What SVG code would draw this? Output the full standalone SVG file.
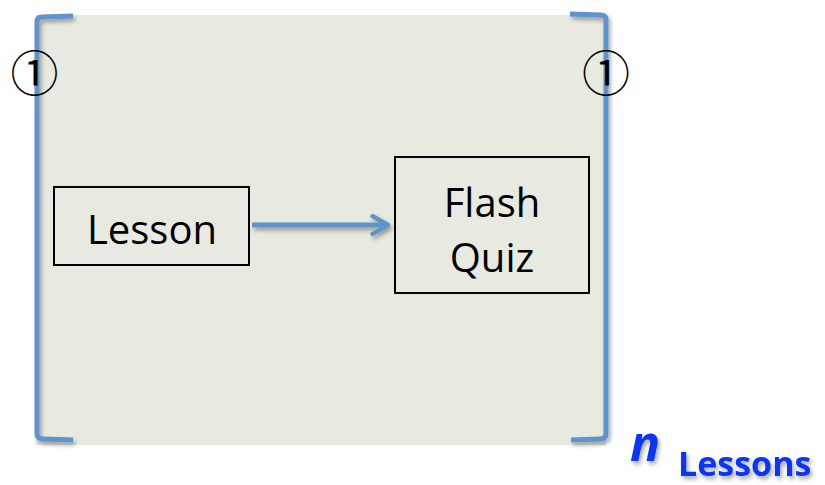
<svg xmlns="http://www.w3.org/2000/svg" width="825" height="485" viewBox="0 0 825 485">
<defs>
<style>
.br{fill:none;stroke:#5F93CB;stroke-width:5;stroke-linecap:butt;stroke-linejoin:round}
.box{fill:none;stroke:#000;stroke-width:2}
.t{font-family:"Open Sans","Liberation Sans",sans-serif;font-size:40px;fill:#000;text-anchor:middle}
.ct{font-family:"Liberation Serif","Noto Sans CJK JP",serif;font-size:48px;fill:#000;text-anchor:middle}
.blue{fill:#0A36F0;font-family:"Open Sans","Liberation Sans",sans-serif;font-weight:bold}
</style>
<filter id="sh" filterUnits="userSpaceOnUse" x="0" y="0" width="825" height="485">
<feDropShadow dx="2" dy="3" stdDeviation="2" flood-color="#000" flood-opacity="0.35"/>
</filter>
<marker id="ah" viewBox="0 0 10 10" refX="8" refY="5" markerWidth="4.4" markerHeight="4.4" orient="auto" markerUnits="strokeWidth">
<path d="M1,1 L8,5 L1,9" fill="none" stroke="#5F93CB" stroke-width="2" stroke-linecap="round" stroke-linejoin="round"/>
</marker>
</defs>
<rect x="36" y="15" width="570" height="430" fill="#E8EAE2"/>
<g id="brackets" filter="url(#sh)">
<path class="br" d="M73,16 L42,17 Q37,17 37,22 L37,433 Q37,439 43,439 L73,440"/>
<path class="br" d="M570,14 L601,15 Q606,15 606,20 L606,433 Q606,439 600,439 L571,440"/>
</g>
<g id="marker-left">
<text class="ct" x="34.5" y="91">①</text>
</g>
<g id="marker-right">
<text class="ct" x="606" y="91">①</text>
</g>
<g id="lesson">
<rect class="box" x="54" y="187" width="195" height="78"/>
<text class="t" x="152" y="244">Lesson</text>
</g>
<g id="flash-quiz">
<rect class="box" x="395" y="157" width="194" height="136"/>
<text class="t" x="492" y="217">Flash</text>
<text class="t" x="492" y="272">Quiz</text>
</g>
<g id="connectors" filter="url(#sh)">
<line x1="252" y1="225" x2="388" y2="225" stroke="#5F93CB" stroke-width="5" marker-end="url(#ah)"/>
</g>
<g id="label" filter="url(#sh)">
<text class="blue" x="630" y="461" font-size="50" font-style="italic">n</text>
<text class="blue" x="678" y="476" font-size="34">Lessons</text>
</g>
</svg>
